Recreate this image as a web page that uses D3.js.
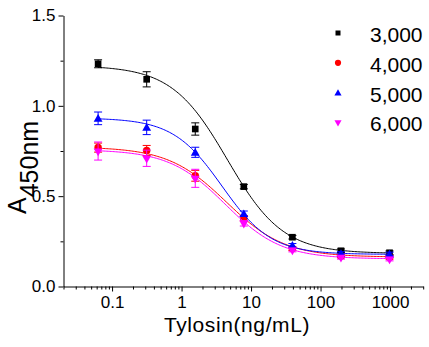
<!DOCTYPE html>
<html>
<head>
<meta charset="utf-8">
<script src="https://cdn.jsdelivr.net/npm/d3@7"></script>
<style>
  body { margin: 0; background: #fff; }
  svg { font-family: "Liberation Sans", Arial, sans-serif; }
</style>
</head>
<body>
<div class="canva"></div>
<script>
// concentrations (ng/mL)
const conc = [0.064, 0.32, 1.6, 8, 40, 200, 1000];

// series names + colours
const seriesNames = ["3,000", "4,000", "5,000", "6,000"];
const seriesColors = ["#000000", "#ff0000", "#0000ff", "#ff00ff"];
const seriesSymbols = ["square", "circle", "triangleUp", "triangleDown"];

// A450 means
const y3000 = [1.23, 1.144, 0.869, 0.55, 0.27, 0.195, 0.184];
const y4000 = [0.766, 0.75, 0.61, 0.375, 0.207, 0.166, 0.159];
const y5000 = [0.928, 0.878, 0.74, 0.40, 0.225, 0.18, 0.177];
const y6000 = [0.747, 0.707, 0.596, 0.347, 0.199, 0.159, 0.149];

// error bars (+/-)
const e3000 = [0.022, 0.042, 0.034, 0.012, 0.01, 0.01, 0.01];
const e4000 = [0.025, 0.028, 0.03, 0.015, 0.01, 0.01, 0.01];
const e5000 = [0.035, 0.04, 0.028, 0.015, 0.01, 0.01, 0.01];
const e6000 = [0.05, 0.045, 0.05, 0.015, 0.01, 0.01, 0.01];

// 4-parameter logistic fit
const fitTop = [1.22, 0.77, 0.93, 0.755];
const fitBottom = [0.18, 0.16, 0.175, 0.15];
const fitX0 = [4.63, 4.48, 3.89, 4.32];
const fitP = [1.085, 1.036, 1.23, 1.074];

const yTicks = [0, 0.5, 1.0, 1.5];
const yMinor = [0.25, 0.75, 1.25];
const xTicks = [0.1, 1, 10, 100, 1000];

const means = [y3000, y4000, y5000, y6000];
const errs = [e3000, e4000, e5000, e6000];

const width = 429, height = 347;

const svg = d3.select('.canva').append('svg')
    .attr('width', width)
    .attr('height', height);

const x = d3.scaleLog().domain([0.02, 3000]).range([63, 422.7]);
const y = d3.scaleLinear().domain([0, 1.5]).range([286, 15]);

// minor log ticks 2..9 per decade
let xMinor = [];
for (let dec = -2; dec <= 3; dec++) {
    for (let m = 2; m <= 9; m++) {
        const v = m * Math.pow(10, dec);
        if (v >= 0.02 && v <= 3000) xMinor.push(v);
    }
}

// axes
svg.append('g')
    .attr('transform', 'translate(0.5,286.5)')
    .call(d3.axisBottom(x).tickValues(xTicks).tickFormat(d => d3.format('')(d))
        .tickSize(5).tickSizeOuter(0).tickPadding(4));
svg.append('g')
    .attr('transform', 'translate(0.5,286.5)')
    .call(d3.axisBottom(x).tickValues(xMinor).tickFormat('').tickSize(3).tickSizeOuter(0))
    .select('.domain').remove();

svg.append('g')
    .attr('transform', 'translate(63.5,0.5)')
    .call(d3.axisLeft(y).tickValues(yTicks).tickFormat(d3.format('.1f'))
        .tickSize(5).tickSizeOuter(0).tickPadding(3));
svg.append('g')
    .attr('transform', 'translate(63.5,0.5)')
    .call(d3.axisLeft(y).tickValues(yMinor).tickFormat('').tickSize(3).tickSizeOuter(0))
    .select('.domain').remove();

svg.selectAll('.tick text')
    .attr('font-size', 17)
    .attr('font-family', '"Liberation Sans", Arial, sans-serif')
    .attr('fill', '#000');
svg.selectAll('.tick line, .domain').attr('stroke', '#000');

// axis titles
svg.append('text')
    .attr('x', 237)
    .attr('y', 332)
    .attr('text-anchor', 'middle')
    .attr('font-size', 21)
    .attr('letter-spacing', 0.6)
    .text('Tylosin(ng/mL)');

const yt = svg.append('text')
    .attr('transform', 'translate(26,214) rotate(-90)')
    .attr('font-size', 25);
yt.append('tspan').text('A');
yt.append('tspan').attr('dy', 12).text('450nm');

// symbol helper
function symPath(kind, size) {
    if (kind === 'square') return d3.symbol(d3.symbolSquare, size)();
    if (kind === 'circle') return d3.symbol(d3.symbolCircle, size)();
    return d3.symbol(d3.symbolTriangle, size)();
}
function symTransform(kind, px, py) {
    if (kind === 'triangleDown') return `translate(${px},${py}) rotate(180)`;
    if (kind === 'triangleUp') return `translate(${px},${py + 0.8})`;
    return `translate(${px},${py})`;
}
const markSize = { square: 44, circle: 44, triangleUp: 34, triangleDown: 34 };
const legSize = { square: 25, circle: 30, triangleUp: 22, triangleDown: 22 };

const plot = svg.append('g');

const line = d3.line().x(d => x(d[0])).y(d => y(d[1]));

seriesNames.forEach((name, s) => {
    const col = seriesColors[s];
    // fitted curve
    const lx0 = Math.log10(conc[0]), lx1 = Math.log10(conc[conc.length - 1]);
    const pts = d3.range(0, 201).map(i => {
        const xv = Math.pow(10, lx0 + (lx1 - lx0) * i / 200);
        const yv = fitBottom[s] + (fitTop[s] - fitBottom[s]) / (1 + Math.pow(xv / fitX0[s], fitP[s]));
        return [xv, yv];
    });
    plot.append('path')
        .attr('d', line(pts))
        .attr('fill', 'none')
        .attr('stroke', col)
        .attr('stroke-width', 1);

    const data = conc.map((c, i) => ({ c: c, v: means[s][i], e: errs[s][i] }));

    // error bars
    const eb = plot.append('g').attr('stroke', col).attr('stroke-width', 1);
    data.forEach(d => {
        const cx = x(d.c), t = y(d.v + d.e), b = y(d.v - d.e);
        eb.append('line').attr('x1', cx).attr('x2', cx).attr('y1', t).attr('y2', b);
        eb.append('line').attr('x1', cx - 4).attr('x2', cx + 4).attr('y1', t).attr('y2', t);
        eb.append('line').attr('x1', cx - 4).attr('x2', cx + 4).attr('y1', b).attr('y2', b);
    });

    // markers
    plot.append('g').selectAll('path')
        .data(data)
        .enter().append('path')
        .attr('d', symPath(seriesSymbols[s], markSize[seriesSymbols[s]]))
        .attr('transform', d => symTransform(seriesSymbols[s], x(d.c), y(d.v)))
        .attr('fill', col);

    // legend
    const ly = 33 + s * 29.8;
    svg.append('path')
        .attr('d', symPath(seriesSymbols[s], legSize[seriesSymbols[s]]))
        .attr('transform', symTransform(seriesSymbols[s], 338, ly))
        .attr('fill', col);
    svg.append('text')
        .attr('x', 370)
        .attr('y', ly + 9)
        .attr('font-size', 21)
        .text(name);
});
</script>
</body>
</html>
